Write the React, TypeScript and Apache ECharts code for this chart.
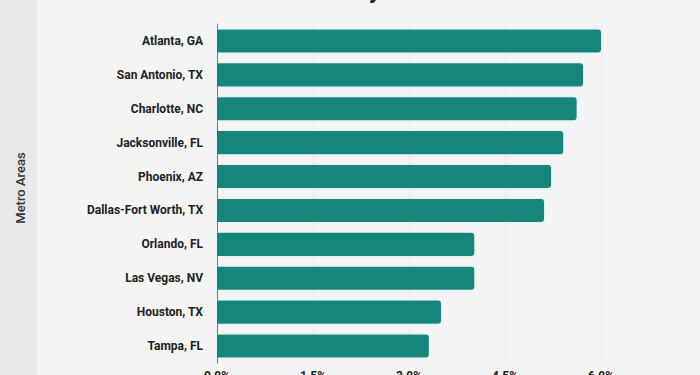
import React, { useEffect, useRef } from "react";
import * as echarts from "echarts";

const categories = [
  "Atlanta, GA",
  "San Antonio, TX",
  "Charlotte, NC",
  "Jacksonville, FL",
  "Phoenix, AZ",
  "Dallas-Fort Worth, TX",
  "Orlando, FL",
  "Las Vegas, NV",
  "Houston, TX",
  "Tampa, FL",
];
const values = [6.0, 5.72, 5.62, 5.41, 5.22, 5.11, 4.02, 4.02, 3.5, 3.31];
const xTicks = [0, 1.5, 3.0, 4.5, 6.0];

export default function App() {
  const ref = useRef<HTMLDivElement>(null);
  useEffect(() => {
    if (!ref.current) return;
    const chart = echarts.init(ref.current, undefined, { renderer: "svg" });
    chart.setOption({
      animation: false,
      backgroundColor: "#f4f4f4",
      textStyle: { fontFamily: "Roboto" },
      graphic: [
        {
          type: "rect",
          left: 0,
          top: 0,
          shape: { width: 37, height: 375 },
          style: { fill: "#e8e8e8" },
          z: -1,
        },
        {
          type: "text",
          x: 20,
          y: 188,
          rotation: Math.PI / 2,
          style: {
            text: "Metro Areas",
            fontSize: 13,
            fontFamily: "Roboto",
            fontWeight: 500,
            fill: "#333",
            align: "center",
            verticalAlign: "middle",
          },
        },
        {
          type: "text",
          x: 345,
          y: -22,
          style: {
            text: "Job Growth Rate by Metro Areas",
            fontSize: 24,
            fontFamily: "Roboto",
            fontWeight: "bold",
            fill: "#222",
            align: "center",
            verticalAlign: "top",
          },
        },
      ],
      grid: {
        left: 217,
        right: 99,
        top: 24,
        bottom: 12,
        containLabel: false,
        outerBoundsMode: "none",
      },
      xAxis: {
        type: "value",
        min: 0,
        max: 6,
        interval: 1.5,
        axisLine: { show: false },
        axisTick: { show: false },
        splitLine: { show: true, lineStyle: { color: "#e9e9e9", width: 1 } },
        axisLabel: {
          margin: 7,
          fontSize: 12,
          fontWeight: "bold",
          color: "#222",
          formatter: (v: number) => (xTicks.includes(v) ? v.toFixed(1) + "%" : ""),
        },
      },
      yAxis: {
        type: "category",
        inverse: true,
        data: categories,
        axisLine: { show: true, lineStyle: { color: "#777", width: 1 } },
        axisTick: { show: false },
        axisLabel: {
          margin: 14,
          fontSize: 12,
          fontWeight: "bold",
          color: "#222",
        },
      },
      series: [
        {
          type: "bar",
          data: values,
          barCategoryGap: "32%",
          itemStyle: {
            color: "#17857b",
            borderRadius: [0, 3, 3, 0],
            shadowColor: "rgba(170,235,235,0.8)",
            shadowBlur: 2,
          },
        },
      ],
    });
    return () => chart.dispose();
  }, []);
  return (
    <div
      ref={ref}
      style={{ position: "fixed", left: 0, top: 0, width: 700, height: 375 }}
    />
  );
}
